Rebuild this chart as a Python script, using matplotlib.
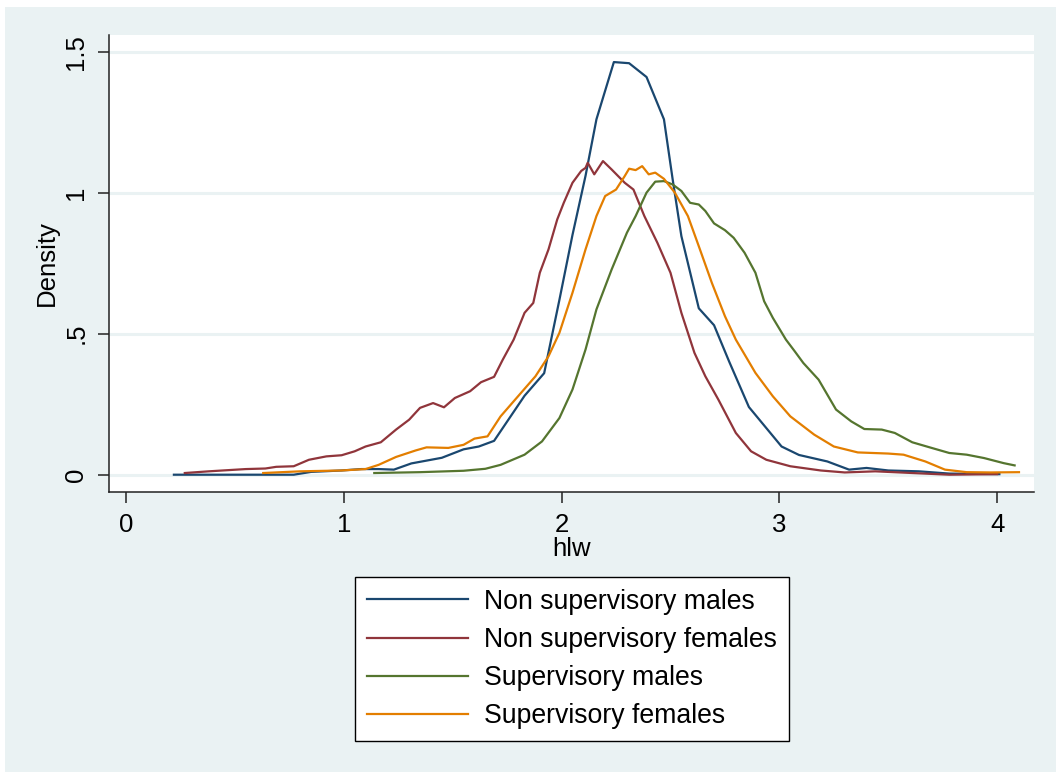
import matplotlib
matplotlib.use('Agg')
from matplotlib import pyplot as plt
from matplotlib.patches import Rectangle

# kernel density curves of hlw
nsm_x = [0.22, 0.77, 0.85, 0.99, 1.08, 1.16, 1.23, 1.31, 1.45, 1.55, 1.62, 1.69, 1.83, 1.92,
         1.99, 2.05, 2.11, 2.16, 2.24, 2.31, 2.39, 2.47, 2.51, 2.55, 2.63, 2.70, 2.77, 2.86,
         3.01, 3.09, 3.22, 3.32, 3.40, 3.50, 3.64, 3.78, 4.01]
nsm_y = [0.0, 0.0, 0.01, 0.015, 0.02, 0.02, 0.018, 0.04, 0.06, 0.09, 0.10, 0.12, 0.28, 0.36,
         0.62, 0.85, 1.06, 1.26, 1.463, 1.459, 1.41, 1.26, 1.047, 0.846, 0.59, 0.53, 0.40, 0.24,
         0.10, 0.07, 0.047, 0.018, 0.024, 0.015, 0.012, 0.004, 0.002]

nsf_x = [0.27, 0.38, 0.55, 0.64, 0.69, 0.77, 0.84, 0.92, 0.99, 1.05, 1.10, 1.17, 1.24, 1.30,
         1.35, 1.41, 1.46, 1.51, 1.58, 1.63, 1.69, 1.73, 1.78, 1.83, 1.87, 1.90, 1.94, 1.98,
         2.01, 2.05, 2.09, 2.11, 2.12, 2.15, 2.19, 2.23, 2.29, 2.33, 2.38, 2.44, 2.50, 2.55,
         2.61, 2.66, 2.72, 2.80, 2.87, 2.94, 3.05, 3.19, 3.30, 3.44, 3.61, 3.78, 4.00]
nsf_y = [0.006, 0.012, 0.02, 0.022, 0.028, 0.03, 0.053, 0.065, 0.069, 0.083, 0.10, 0.115, 0.16, 0.195,
         0.237, 0.254, 0.239, 0.272, 0.296, 0.328, 0.347, 0.408, 0.479, 0.574, 0.609, 0.716, 0.799, 0.905,
         0.964, 1.035, 1.077, 1.088, 1.106, 1.065, 1.112, 1.082, 1.035, 1.011, 0.917, 0.822, 0.716, 0.574,
         0.432, 0.349, 0.266, 0.148, 0.083, 0.053, 0.03, 0.015, 0.008, 0.012, 0.006, 0.0, 0.002]

sm_x = [1.14, 1.35, 1.55, 1.65, 1.72, 1.83, 1.91, 1.99, 2.05, 2.11, 2.16, 2.23, 2.30, 2.34,
        2.39, 2.43, 2.47, 2.51, 2.55, 2.59, 2.63, 2.66, 2.70, 2.75, 2.79, 2.84, 2.89, 2.93,
        2.97, 3.03, 3.07, 3.11, 3.18, 3.26, 3.33, 3.39, 3.47, 3.53, 3.61, 3.69, 3.78, 3.86,
        3.94, 4.03, 4.08]
sm_y = [0.006, 0.009, 0.014, 0.021, 0.035, 0.071, 0.118, 0.201, 0.302, 0.444, 0.586, 0.728, 0.858, 0.917,
        1.0, 1.039, 1.041, 1.029, 1.006, 0.964, 0.958, 0.935, 0.891, 0.867, 0.84, 0.787, 0.716, 0.615,
        0.556, 0.479, 0.438, 0.396, 0.337, 0.231, 0.189, 0.162, 0.16, 0.148, 0.115, 0.097, 0.077, 0.071,
        0.059, 0.041, 0.033]

sf_x = [0.63, 0.80, 0.99, 1.10, 1.16, 1.24, 1.33, 1.38, 1.48, 1.55, 1.60, 1.66, 1.72, 1.80,
        1.88, 1.94, 1.99, 2.05, 2.11, 2.16, 2.20, 2.25, 2.29, 2.31, 2.34, 2.37, 2.40, 2.43,
        2.47, 2.52, 2.58, 2.63, 2.69, 2.75, 2.80, 2.89, 2.97, 3.05, 3.16, 3.25, 3.36, 3.50,
        3.57, 3.67, 3.76, 3.86, 3.97, 4.10]
sf_y = [0.006, 0.012, 0.015, 0.02, 0.035, 0.063, 0.086, 0.097, 0.095, 0.106, 0.128, 0.136, 0.207, 0.278,
        0.349, 0.42, 0.503, 0.645, 0.799, 0.917, 0.988, 1.011, 1.059, 1.085, 1.08, 1.094, 1.065, 1.071,
        1.049, 1.0, 0.917, 0.81, 0.68, 0.562, 0.479, 0.361, 0.278, 0.207, 0.142, 0.10, 0.079, 0.075,
        0.071, 0.047, 0.018, 0.009, 0.008, 0.009]

labels = ['Non supervisory males', 'Non supervisory females', 'Supervisory males', 'Supervisory females']
colors = ['#1a476f', '#90353b', '#55752f', '#e37e00']
x_ticks = [0, 1, 2, 3, 4]
y_ticks = [0, 0.5, 1, 1.5]
y_ticklabels = ['0', '.5', '1', '1.5']

plt.rcParams['font.family'] = ['Liberation Sans', 'DejaVu Sans']
bg = '#eaf2f3'

fig = plt.figure(figsize=(10.56, 7.72), dpi=100, facecolor='white')
fig.patches.append(Rectangle((5 / 1056, 0), 1, (772 - 7) / 772, transform=fig.transFigure,
                             facecolor=bg, edgecolor='none', zorder=-10))
ax = fig.add_axes([109 / 1056, (772 - 492) / 772, (1034 - 109) / 1056, (492 - 35) / 772])
ax.set_facecolor('white')

series = [(nsm_x, nsm_y), (nsf_x, nsf_y), (sm_x, sm_y), (sf_x, sf_y)]
for (xs, ys), lab, c in zip(series, labels, colors):
    ax.plot(xs, ys, color=c, lw=1.6, label=lab)

ax.set_xlim(-0.078, 4.169)
ax.set_ylim(-0.0613, 1.559)
ax.set_xticks(x_ticks)
ax.set_yticks(y_ticks)
ax.set_yticklabels(y_ticklabels, rotation=90, va='center')
ax.grid(axis='y', color=bg, lw=2.2)
ax.set_axisbelow(True)
for s in ['top', 'right']:
    ax.spines[s].set_visible(False)
for s in ['left', 'bottom']:
    ax.spines[s].set_color('#222222')
    ax.spines[s].set_linewidth(1.1)
ax.tick_params(length=8, width=1.1, color='#222222', labelsize=18.5, pad=7)
ax.set_xlabel('hlw', fontsize=18.5, labelpad=0)
ax.set_ylabel('Density', fontsize=18.5, labelpad=4)

leg = ax.legend(loc='center', bbox_to_anchor=(572 / 1056, (772 - 659) / 772),
                bbox_transform=fig.transFigure, fontsize=19.2, frameon=True, fancybox=False,
                framealpha=1, handlelength=3.8, handletextpad=0.6, labelspacing=0.46,
                borderpad=0.45)
leg.get_frame().set_edgecolor('black')
leg.get_frame().set_linewidth(1.0)
for line in leg.get_lines():
    line.set_linewidth(1.6)

fig.savefig('out.png', dpi=100, facecolor=fig.get_facecolor())
